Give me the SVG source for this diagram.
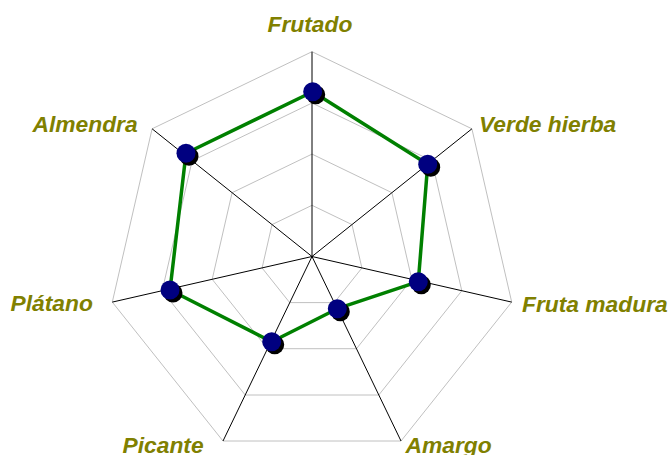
<svg xmlns="http://www.w3.org/2000/svg" width="670" height="455" viewBox="0 0 670 455">
<defs>
<style>
.grid{fill:none;stroke:#c0c0c0;stroke-width:1}
.axis{stroke:#000;stroke-width:1}
.lbl{font-family:"Liberation Sans",Arial,sans-serif;font-weight:bold;font-style:italic;font-size:22.8px;fill:#808000}
.series{fill:none;stroke:#008000;stroke-width:3.5;stroke-linejoin:round}
.shadow{fill:#000}
.dot{fill:#000080}
</style>
</defs>
<rect width="670" height="455" fill="#fff"/>
<g id="grid">
<polygon class="grid" points="312,51.7 471.9,128.8 511.7,302.1 401,441 223,441 112.3,302.1 152.1,128.8"/>
<polygon class="grid" points="312,103 431.9,160.8 461.8,290.8 378.8,395 245.2,395 162.2,290.8 192.1,160.8"/>
<polygon class="grid" points="312,154.1 391.9,192.7 411.8,279.3 356.5,348.7 267.5,348.7 212.2,279.3 232.1,192.7"/>
<polygon class="grid" points="312,205.3 352,224.6 361.9,268 334.3,302.6 289.7,302.6 262.1,268 272,224.6"/>
</g>
<g id="axes">
<line class="axis" x1="312" y1="256.5" x2="312" y2="51.7"/>
<line class="axis" x1="312" y1="256.5" x2="471.9" y2="128.8"/>
<line class="axis" x1="312" y1="256.5" x2="511.7" y2="302.1"/>
<line class="axis" x1="312" y1="256.5" x2="401" y2="441"/>
<line class="axis" x1="312" y1="256.5" x2="223" y2="441"/>
<line class="axis" x1="312" y1="256.5" x2="112.3" y2="302.1"/>
<line class="axis" x1="312" y1="256.5" x2="152.1" y2="128.8"/>
</g>
<g id="connectors">
<polygon class="series" points="312.7,91.7 427.7,164.3 418.3,281.7 337.3,308.7 271.7,341.7 170,290 186,153.3"/>
</g>
<g id="node-frutado"><circle class="shadow" cx="315.7" cy="94.7" r="9.5"/><circle class="dot" cx="312.7" cy="91.7" r="9.5"/><text class="lbl" x="267.5" y="32">Frutado</text></g>
<g id="node-verde-hierba"><circle class="shadow" cx="430.7" cy="167.3" r="9.5"/><circle class="dot" cx="427.7" cy="164.3" r="9.5"/><text class="lbl" x="479" y="132">Verde hierba</text></g>
<g id="node-fruta-madura"><circle class="shadow" cx="421.3" cy="284.7" r="9.5"/><circle class="dot" cx="418.3" cy="281.7" r="9.5"/><text class="lbl" x="522" y="312">Fruta madura</text></g>
<g id="node-amargo"><circle class="shadow" cx="340.3" cy="311.7" r="9.5"/><circle class="dot" cx="337.3" cy="308.7" r="9.5"/><text class="lbl" x="405.5" y="453">Amargo</text></g>
<g id="node-picante"><circle class="shadow" cx="274.7" cy="344.7" r="9.5"/><circle class="dot" cx="271.7" cy="341.7" r="9.5"/><text class="lbl" x="122.5" y="453">Picante</text></g>
<g id="node-platano"><circle class="shadow" cx="173" cy="293" r="9.5"/><circle class="dot" cx="170" cy="290" r="9.5"/><text class="lbl" x="10.5" y="311">Plátano</text></g>
<g id="node-almendra"><circle class="shadow" cx="189" cy="156.3" r="9.5"/><circle class="dot" cx="186" cy="153.3" r="9.5"/><text class="lbl" x="32.5" y="132">Almendra</text></g>
</svg>
